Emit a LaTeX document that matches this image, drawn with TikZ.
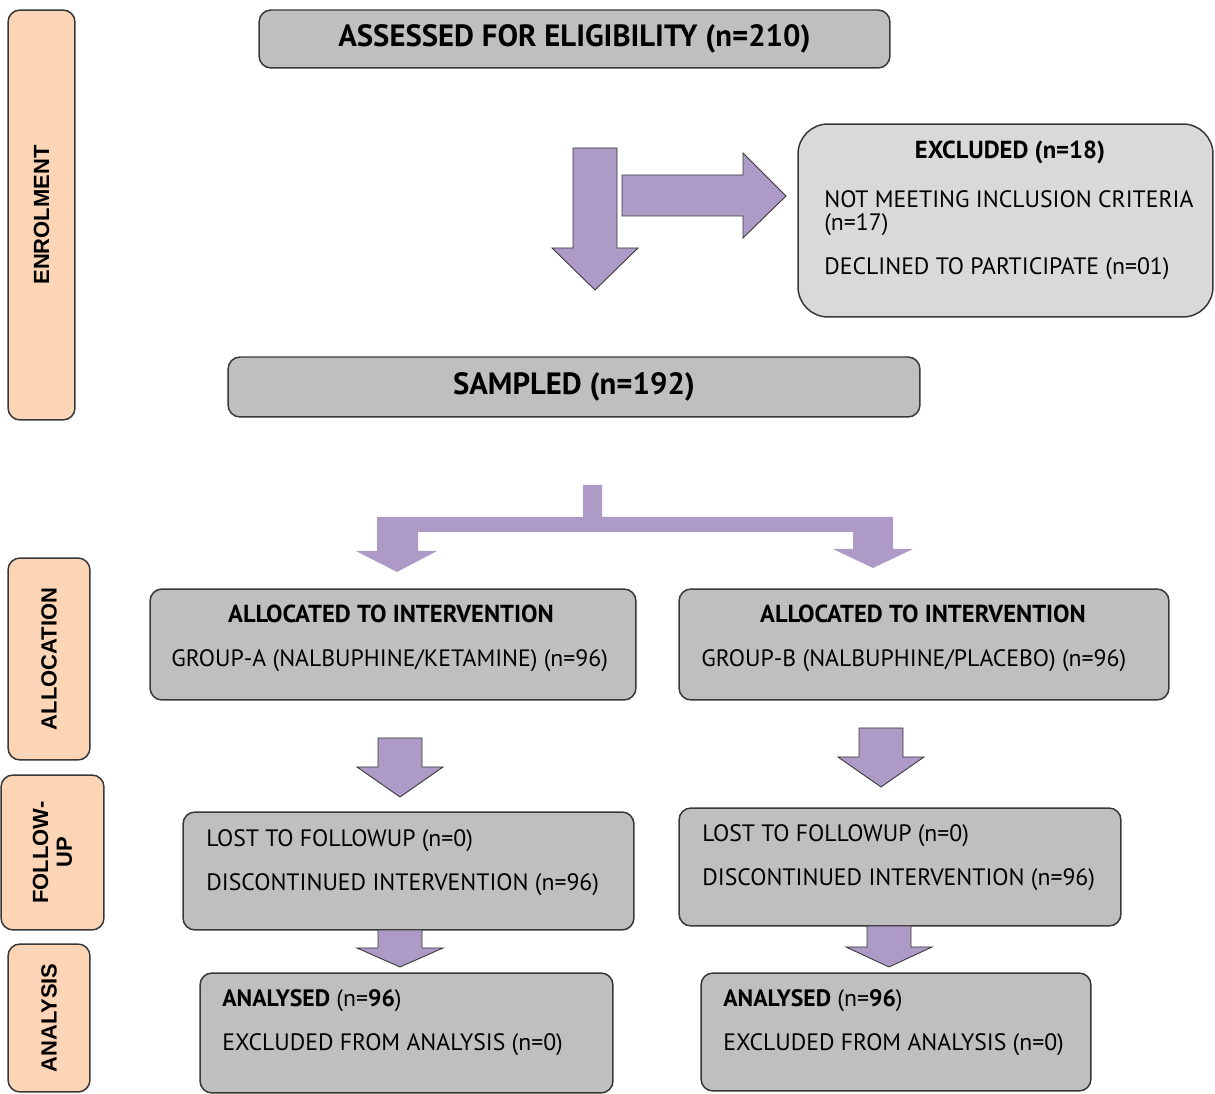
\documentclass[tikz,border=0pt]{standalone}
\usepackage{fontspec}
\setmainfont{PT Sans}
\newfontfamily\stagefont{Liberation Sans}
\usetikzlibrary{calc}

\definecolor{boxgray}{HTML}{BFBFBF}
\definecolor{exclgray}{HTML}{D9D9D9}
\definecolor{stagepeach}{HTML}{FBD5B5}
\definecolor{arrowlilac}{HTML}{AD9AC6}
\definecolor{edgegray}{HTML}{383838}

\tikzset{
  flowbox/.style={draw=edgegray, line width=0.85pt, fill=boxgray,
    rounded corners=0.24cm, inner sep=0pt},
  stagebox/.style={draw=edgegray, line width=0.85pt, fill=stagepeach,
    rounded corners=0.24cm, rotate=90, align=center, inner sep=0pt,
    font=\stagefont\bfseries\fontsize{12.5}{13.5}\selectfont},
  headtxt/.style={font=\bfseries\fontsize{17.5}{20}\selectfont},
  titletxt/.style={inner sep=0pt, font=\bfseries\fontsize{14}{16}\selectfont},
  bodytxt/.style={anchor=west, inner sep=0pt, yshift=-0.06cm,
    font=\fontsize{13.5}{16}\selectfont},
  fatarrow/.style={fill=arrowlilac, draw=edgegray, line width=0.5pt, line join=miter}
}

% block arrow pointing down: centre, top, neck, tip
\newcommand{\blockdown}[4]{
  \draw[fatarrow] (#1-22,#2) -- (#1+22,#2) -- (#1+22,#3) -- (#1+43,#3)
    -- (#1,#4) -- (#1-43,#3) -- (#1-22,#3) -- cycle;}

\begin{document}
\begin{tikzpicture}[x=0.02cm, y=-0.02cm]
  \useasboundingbox (0,0) rectangle (1215,1094);

  %Stages
  \node [stagebox, minimum width=8.2cm, minimum height=1.34cm] (enrol)
    at (41.5,215) {ENROLMENT};
  \node [stagebox, minimum width=4.04cm, minimum height=1.64cm] (alloc)
    at (49,659) {ALLOCATION};
  \node [stagebox, minimum width=3.1cm, minimum height=2.06cm] (follow)
    at (52.5,852.5) {FOLLOW-\\UP};
  \node [stagebox, minimum width=2.96cm, minimum height=1.64cm] (analysis)
    at (49,1018) {ANALYSIS};

  %Enrolment
  \node [flowbox, headtxt, minimum width=12.62cm, minimum height=1.16cm] (assess)
    at (574.5,39) {ASSESSED FOR ELIGIBILITY (n=210)};

  \node [flowbox, fill=exclgray, rounded corners=0.6cm,
    minimum width=8.3cm, minimum height=3.86cm] (excl) at (1005.5,220.5) {};
  \node [titletxt] (excltitle) at (1010,152) {EXCLUDED (n=18)};
  \node [bodytxt] (exclcrit) at (824,196) {NOT MEETING INCLUSION CRITERIA};
  \node [bodytxt] (exclcritn) at (824,222) {(n=17)};
  \node [bodytxt] (excldecl) at (824,266) {DECLINED TO PARTICIPATE (n=01)};

  \blockdown{595}{148}{248}{290}
  \draw [fatarrow] (622,175) -- (743,175) -- (743,153) -- (786,196)
    -- (743,238) -- (743,216) -- (622,216) -- cycle;

  \node [flowbox, headtxt, minimum width=13.84cm, minimum height=1.2cm] (sampled)
    at (574,387) {SAMPLED (n=192)};

  %Split into groups
  \fill [arrowlilac] (583,485) -- (602,485) -- (602,517) -- (893,517)
    -- (893,549) -- (913,549) -- (873,568) -- (833,549) -- (853,549)
    -- (853,532) -- (418,532) -- (418,551) -- (437,551) -- (397,572)
    -- (356,551) -- (377,551) -- (377,517) -- (583,517) -- cycle;

  %Allocation
  \node [flowbox, minimum width=9.72cm, minimum height=2.22cm] (allocA)
    at (393,644.5) {};
  \node [titletxt] (allocAtitle) at (391,614) {ALLOCATED TO INTERVENTION};
  \node [bodytxt] (allocAgroup) at (171,658) {GROUP-A (NALBUPHINE/KETAMINE) (n=96)};

  \node [flowbox, minimum width=9.8cm, minimum height=2.22cm] (allocB)
    at (924,644.5) {};
  \node [titletxt] (allocBtitle) at (923,614) {ALLOCATED TO INTERVENTION};
  \node [bodytxt] (allocBgroup) at (701,658) {GROUP-B (NALBUPHINE/PLACEBO) (n=96)};

  %Follow-up
  \node [flowbox, minimum width=9.02cm, minimum height=2.36cm] (followA)
    at (408.5,871) {};
  \node [bodytxt] (followAlost) at (206,838) {LOST TO FOLLOWUP (n=0)};
  \node [bodytxt] (followAdisc) at (206,882) {DISCONTINUED INTERVENTION (n=96)};

  \node [flowbox, minimum width=8.84cm, minimum height=2.36cm] (followB)
    at (900,867) {};
  \node [bodytxt] (followBlost) at (702,833) {LOST TO FOLLOWUP (n=0)};
  \node [bodytxt] (followBdisc) at (702,877) {DISCONTINUED INTERVENTION (n=96)};

  %Analysis
  \node [flowbox, minimum width=8.26cm, minimum height=2.4cm] (analysedA)
    at (406.5,1033) {};
  \node [bodytxt] (analysedAn) at (222,998) {\textbf{ANALYSED} (n=\textbf{96})};
  \node [bodytxt] (analysedAex) at (222,1042) {EXCLUDED FROM ANALYSIS (n=0)};

  \node [flowbox, minimum width=7.8cm, minimum height=2.36cm] (analysedB)
    at (896,1032) {};
  \node [bodytxt] (analysedBn) at (723,998) {\textbf{ANALYSED} (n=\textbf{96})};
  \node [bodytxt] (analysedBex) at (723,1042) {EXCLUDED FROM ANALYSIS (n=0)};

  %Arrows between stages
  \blockdown{400}{738}{767}{797}
  \blockdown{881}{728}{757}{787}
  \blockdown{400}{930}{948}{967}
  \blockdown{889}{926}{947}{967}

\end{tikzpicture}
\end{document}
